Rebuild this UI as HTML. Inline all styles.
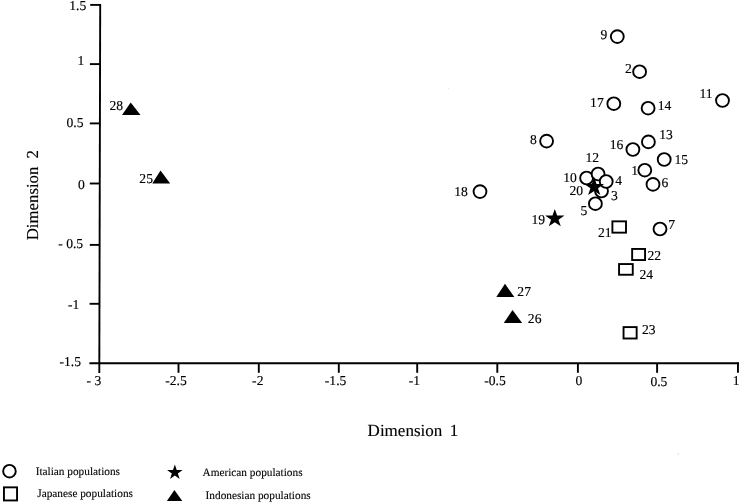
<!DOCTYPE html>
<html><head><meta charset="utf-8"><style>
html,body{margin:0;padding:0;background:#fff;width:740px;height:502px;overflow:hidden}
svg{display:block;will-change:transform}
text{font-family:"Liberation Serif",serif;fill:#000;stroke:#000;stroke-width:0.15px;text-rendering:geometricPrecision}
text.l{stroke-width:0.1px}
text.t{stroke-width:0.15px}
</style></head><body>
<svg width="740" height="502" viewBox="0 0 740 502">
<rect width="740" height="502" fill="#fff"/>
<g stroke="#000" stroke-width="1.9" fill="none">
<line x1="100.2" y1="3.9" x2="99.3" y2="372.9"/>
<line x1="89.4" y1="363.3" x2="738.9" y2="363.3"/>
<line x1="90.2" y1="4.9" x2="100" y2="4.9"/>
<line x1="89.9" y1="64.1" x2="100" y2="64.1"/>
<line x1="89.8" y1="123.4" x2="100" y2="123.4"/>
<line x1="89.8" y1="183.5" x2="100" y2="183.5"/>
<line x1="89.8" y1="244.9" x2="100" y2="244.9"/>
<line x1="89.6" y1="303.8" x2="100" y2="303.8"/>
<line x1="178.5" y1="363" x2="178.5" y2="372.8"/>
<line x1="258.8" y1="363" x2="258.8" y2="372.8"/>
<line x1="338.8" y1="363" x2="338.8" y2="372.8"/>
<line x1="417.2" y1="363" x2="417.2" y2="372.8"/>
<line x1="497.3" y1="363" x2="497.3" y2="372.8"/>
<line x1="577.9" y1="363" x2="577.9" y2="372.8"/>
<line x1="657.1" y1="363" x2="657.1" y2="372.8"/>
<line x1="737.95" y1="362.4" x2="737.95" y2="372.8"/>
</g>
<circle cx="678.3" cy="453.9" r="0.6" fill="#c8c8c8"/><circle cx="448.3" cy="88.4" r="0.6" fill="#e0e0e0"/>
<g fill="#fff" stroke="#000" stroke-width="1.9">
<ellipse cx="617.3" cy="36.6" rx="6.45" ry="6.35"/>
<ellipse cx="639.6" cy="71.7" rx="6.45" ry="6.35"/>
<ellipse cx="613.8" cy="103.7" rx="6.45" ry="6.35"/>
<ellipse cx="648.1" cy="108.2" rx="6.45" ry="6.35"/>
<ellipse cx="722.5" cy="100.5" rx="6.45" ry="6.35"/>
<ellipse cx="546.6" cy="141.1" rx="6.45" ry="6.35"/>
<ellipse cx="632.9" cy="149.5" rx="6.45" ry="6.35"/>
<ellipse cx="648.4" cy="141.9" rx="6.45" ry="6.35"/>
<ellipse cx="664.2" cy="159.5" rx="6.45" ry="6.35"/>
<ellipse cx="644.8" cy="170.2" rx="6.45" ry="6.35"/>
<ellipse cx="653" cy="184.4" rx="6.45" ry="6.35"/>
<ellipse cx="480" cy="191.6" rx="6.45" ry="6.35"/>
<ellipse cx="660" cy="229" rx="6.45" ry="6.35"/>
<ellipse cx="586.6" cy="178.0" rx="6.45" ry="6.35"/>
<ellipse cx="598.1" cy="174.0" rx="6.45" ry="6.35"/>
<ellipse cx="601.5" cy="191.0" rx="6.45" ry="6.35"/>
<ellipse cx="606.2" cy="181.5" rx="6.45" ry="6.35"/>
<ellipse cx="595.4" cy="203.7" rx="6.45" ry="6.35"/>
</g>
<g fill="#fff" stroke="#000" stroke-width="1.9">
<rect x="612.40" y="221.35" width="13.60" height="11.30"/>
<rect x="632.15" y="248.95" width="12.90" height="11.10"/>
<rect x="619.05" y="264.05" width="13.70" height="10.70"/>
<rect x="623.55" y="327.10" width="13.10" height="11.40"/>
<circle cx="9.45" cy="471.2" r="6.3"/>
<rect x="3.95" y="487.35" width="13.10" height="13.10"/>
</g>
<g fill="#000">
<polygon points="554.80,208.90 557.11,215.51 564.48,215.53 558.53,219.64 560.78,226.27 554.80,222.20 548.82,226.27 551.07,219.64 545.12,215.53 552.49,215.51"/>
<polygon points="594.20,177.30 596.57,184.03 604.08,184.07 598.03,188.27 600.31,195.03 594.20,190.90 588.09,195.03 590.37,188.27 584.32,184.07 591.83,184.03"/>
<polygon points="505,283.8 496.3,297.0 514.3,297.0"/>
<polygon points="512.5,310.0 503.8,323.09999999999997 522.1999999999999,323.09999999999997"/>
<polygon points="130.7,102.5 122.0,114.9 140.5,114.9"/>
<polygon points="160.5,170.6 152.29999999999998,183.39999999999998 170.20000000000002,183.39999999999998"/>
<polygon points="174.4,489.9 166.89999999999998,501.0 182.3,501.0"/>
<polygon points="174.85,464.45 176.71,469.94 182.61,469.98 177.86,473.41 179.65,478.92 174.85,475.55 170.05,478.92 171.84,473.41 167.09,469.98 172.99,469.94"/>
</g>
<text x="600.43" y="38.69" font-size="13.6">9</text>
<text x="625.03" y="73.45" font-size="13.6">2</text>
<text x="590.10" y="106.94" font-size="13.6">17</text>
<text x="657.81" y="109.54" font-size="13.6">14</text>
<text x="699.51" y="98.14" font-size="13.6">11</text>
<text x="530.00" y="144.36" font-size="13.6">8</text>
<text x="609.65" y="148.69" font-size="13.6">16</text>
<text x="659.17" y="138.74" font-size="13.6">13</text>
<text x="674.57" y="163.67" font-size="13.6">15</text>
<text x="631.36" y="174.94" font-size="13.6">1</text>
<text x="661.56" y="186.94" font-size="13.6">6</text>
<text x="615.32" y="185.33" font-size="13.6">4</text>
<text x="610.89" y="200.09" font-size="13.6">3</text>
<text x="585.43" y="162.20" font-size="13.6">12</text>
<text x="563.21" y="181.61" font-size="13.6">10</text>
<text x="569.41" y="195.31" font-size="13.6">20</text>
<text x="580.62" y="214.64" font-size="13.6">5</text>
<text x="454.31" y="195.96" font-size="13.6">18</text>
<text x="531.53" y="223.69" font-size="13.6">19</text>
<text x="597.91" y="237.00" font-size="13.6">21</text>
<text x="668.35" y="228.90" font-size="13.6">7</text>
<text x="647.48" y="260.05" font-size="13.6">22</text>
<text x="639.51" y="278.85" font-size="13.6">24</text>
<text x="642.07" y="333.84" font-size="13.6">23</text>
<text x="517.35" y="296.10" font-size="13.6">27</text>
<text x="527.85" y="323.44" font-size="13.6">26</text>
<text x="109.56" y="110.46" font-size="13.6">28</text>
<text x="139.37" y="182.89" font-size="13.6">25</text>
<text x="69.22" y="10.29" font-size="13.6">1.5</text>
<text x="77.61" y="65.41" font-size="13.6">1</text>
<text x="66.51" y="127.43" font-size="13.6">0.5</text>
<text x="77.95" y="188.61" font-size="13.6">0</text>
<text x="58.22" y="248.23" font-size="13.6">-&#160;0.5</text>
<text x="67.94" y="308.94" font-size="13.6">-1</text>
<text x="59.50" y="365.89" font-size="13.6">-1.5</text>
<text x="86.55" y="384.86" font-size="13.6">-&#160;3</text>
<text x="165.27" y="384.93" font-size="13.6">-2.5</text>
<text x="252.11" y="384.90" font-size="13.6">-2</text>
<text x="324.85" y="384.79" font-size="13.6">-1.5</text>
<text x="408.79" y="384.74" font-size="13.6">-1</text>
<text x="484.25" y="384.93" font-size="13.6">-0.5</text>
<text x="575.55" y="384.86" font-size="13.6">0</text>
<text x="650.41" y="386.43" font-size="13.6">0.5</text>
<text x="732.76" y="384.86" font-size="13.6">1</text>
<text class="l" x="35.64" y="474.70" font-size="11.3">Italian populations</text>
<text class="l" x="37.26" y="497.00" font-size="11.3">Japanese populations</text>
<text class="l" x="202.49" y="476.30" font-size="11.3">American populations</text>
<text class="l" x="205.59" y="498.70" font-size="11.3">Indonesian populations</text>
<text class="t" x="367.61" y="435.6" font-size="17">Dimension</text>
<text class="t" x="449.71" y="435.6" font-size="17">1</text>
<text class="t" transform="translate(37.50,240.28) rotate(-90)" font-size="16.8">Dimension</text>
<text class="t" transform="translate(37.50,158.61) rotate(-90)" font-size="16.8">2</text>
</svg>
</body></html>
